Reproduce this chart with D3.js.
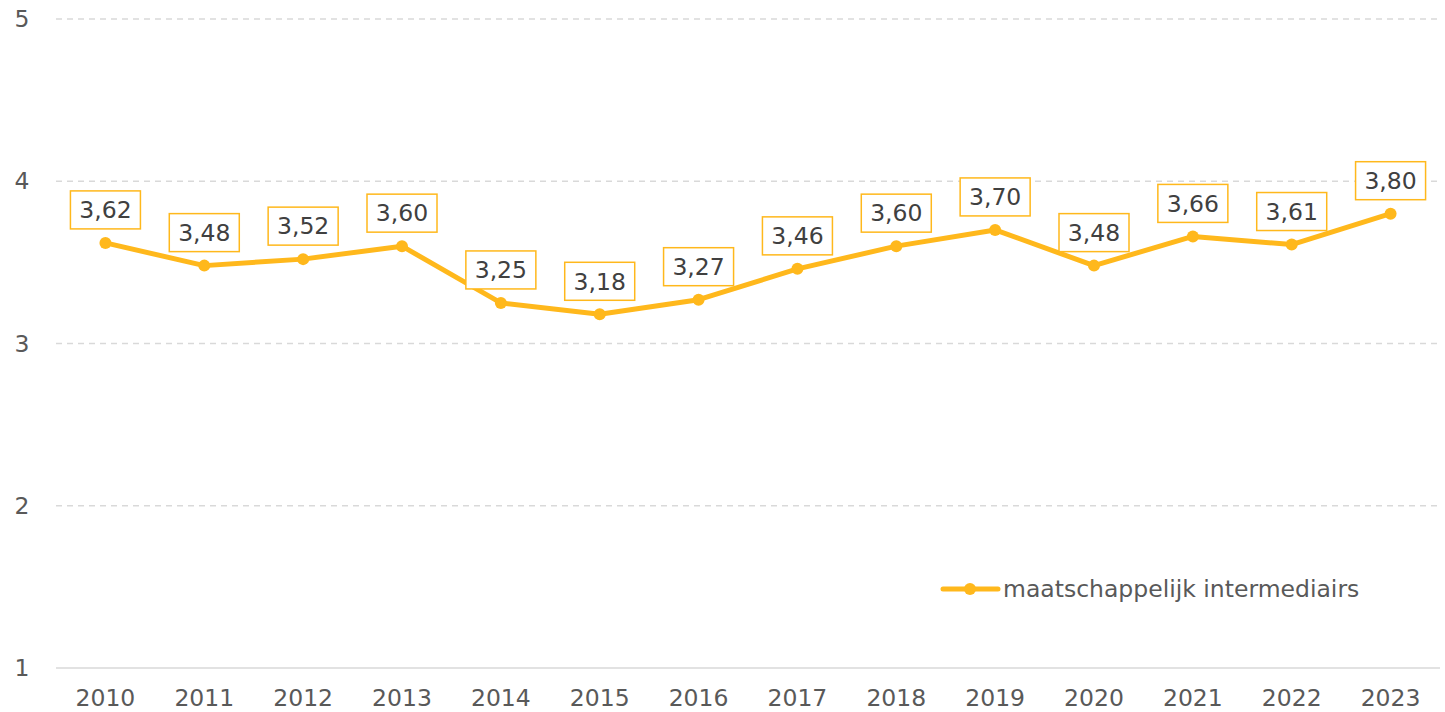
<!DOCTYPE html>
<html>
<head>
<meta charset="utf-8">
<script src="https://cdn.jsdelivr.net/npm/d3@7"></script>
<style>
  body { margin: 0; background: #fff; }
  text { font-family: "DejaVu Sans", Verdana, sans-serif; fill: #595959; }
  .grid line { stroke: #d9d9d9; stroke-dasharray: 6,5; stroke-width: 1.3; }
</style>
</head>
<body>
<svg id="chart" width="1445" height="712"></svg>
<script>
// data
var years = ["2010","2011","2012","2013","2014","2015","2016","2017","2018","2019","2020","2021","2022","2023"];
var values = [3.62, 3.48, 3.52, 3.60, 3.25, 3.18, 3.27, 3.46, 3.60, 3.70, 3.48, 3.66, 3.61, 3.80];
var yTicks = [1, 2, 3, 4, 5];
var seriesName = "maatschappelijk intermediairs";

var color = "#FFB81C";
var fontSize = "23.5px";
var margin = {top: 19, right: 5, bottom: 44, left: 56};
var width = 1445 - margin.left - margin.right;
var height = 712 - margin.top - margin.bottom;

var svg = d3.select("#chart").append("g")
    .attr("transform", "translate(" + margin.left + "," + margin.top + ")");

var x = d3.scaleBand().domain(years).range([0, width]);
var y = d3.scaleLinear().domain([1, 5]).range([height, 0]);

// gridlines
svg.append("g")
  .attr("class", "grid")
  .selectAll("line")
  .data(yTicks.filter(function(d) { return d > 1; }))
  .enter().append("line")
  .attr("x1", 0).attr("x2", width)
  .attr("y1", function(d) { return y(d); })
  .attr("y2", function(d) { return y(d); });

// baseline
svg.append("line")
  .attr("x1", 0).attr("x2", width)
  .attr("y1", y(1)).attr("y2", y(1))
  .style("stroke", "#d9d9d9").style("stroke-width", 1.5);

// y labels
svg.append("g").selectAll("text")
  .data(yTicks)
  .enter().append("text")
  .attr("x", -34)
  .attr("y", function(d) { return y(d); })
  .attr("dy", "0.35em")
  .style("text-anchor", "middle")
  .style("font-size", fontSize)
  .text(function(d) { return d; });

// x labels
svg.append("g").selectAll("text")
  .data(years)
  .enter().append("text")
  .attr("x", function(d) { return x(d) + x.bandwidth() / 2; })
  .attr("y", height + 38)
  .style("text-anchor", "middle")
  .style("font-size", fontSize)
  .text(function(d) { return d; });

var data = years.map(function(d, i) { return {year: d, value: values[i]}; });

var line = d3.line()
  .x(function(d) { return x(d.year) + x.bandwidth() / 2; })
  .y(function(d) { return y(d.value); });

svg.append("path")
  .datum(data)
  .attr("d", line)
  .style("fill", "none")
  .style("stroke", color)
  .style("stroke-width", 5)
  .style("stroke-linejoin", "round");

svg.append("g").selectAll("circle")
  .data(data)
  .enter().append("circle")
  .attr("cx", function(d) { return x(d.year) + x.bandwidth() / 2; })
  .attr("cy", function(d) { return y(d.value); })
  .attr("r", 6)
  .style("fill", color);

// data labels
var fmt = function(v) { return v.toFixed(2).replace(".", ","); };
var lbl = svg.append("g").selectAll("g")
  .data(data)
  .enter().append("g")
  .attr("transform", function(d) {
    return "translate(" + (x(d.year) + x.bandwidth() / 2) + "," + (y(d.value) - 33) + ")";
  });
lbl.append("rect")
  .attr("x", -35).attr("y", -19)
  .attr("width", 70).attr("height", 38)
  .style("fill", "#fff")
  .style("stroke", color)
  .style("stroke-width", 1.5);
lbl.append("text")
  .attr("dy", "0.35em")
  .style("text-anchor", "middle")
  .style("font-size", fontSize)
  .style("fill", "#404040")
  .text(function(d) { return fmt(d.value); });

// legend
var legend = svg.append("g").attr("transform", "translate(" + (943 - margin.left) + "," + (589 - margin.top) + ")");
legend.append("line")
  .attr("x1", 0).attr("x2", 55)
  .style("stroke", color).style("stroke-width", 5).style("stroke-linecap", "round");
legend.append("circle").attr("cx", 27).attr("r", 6).style("fill", color);
legend.append("text")
  .attr("x", 60).attr("dy", "0.35em")
  .style("font-size", fontSize)
  .text(seriesName);
</script>
</body>
</html>
